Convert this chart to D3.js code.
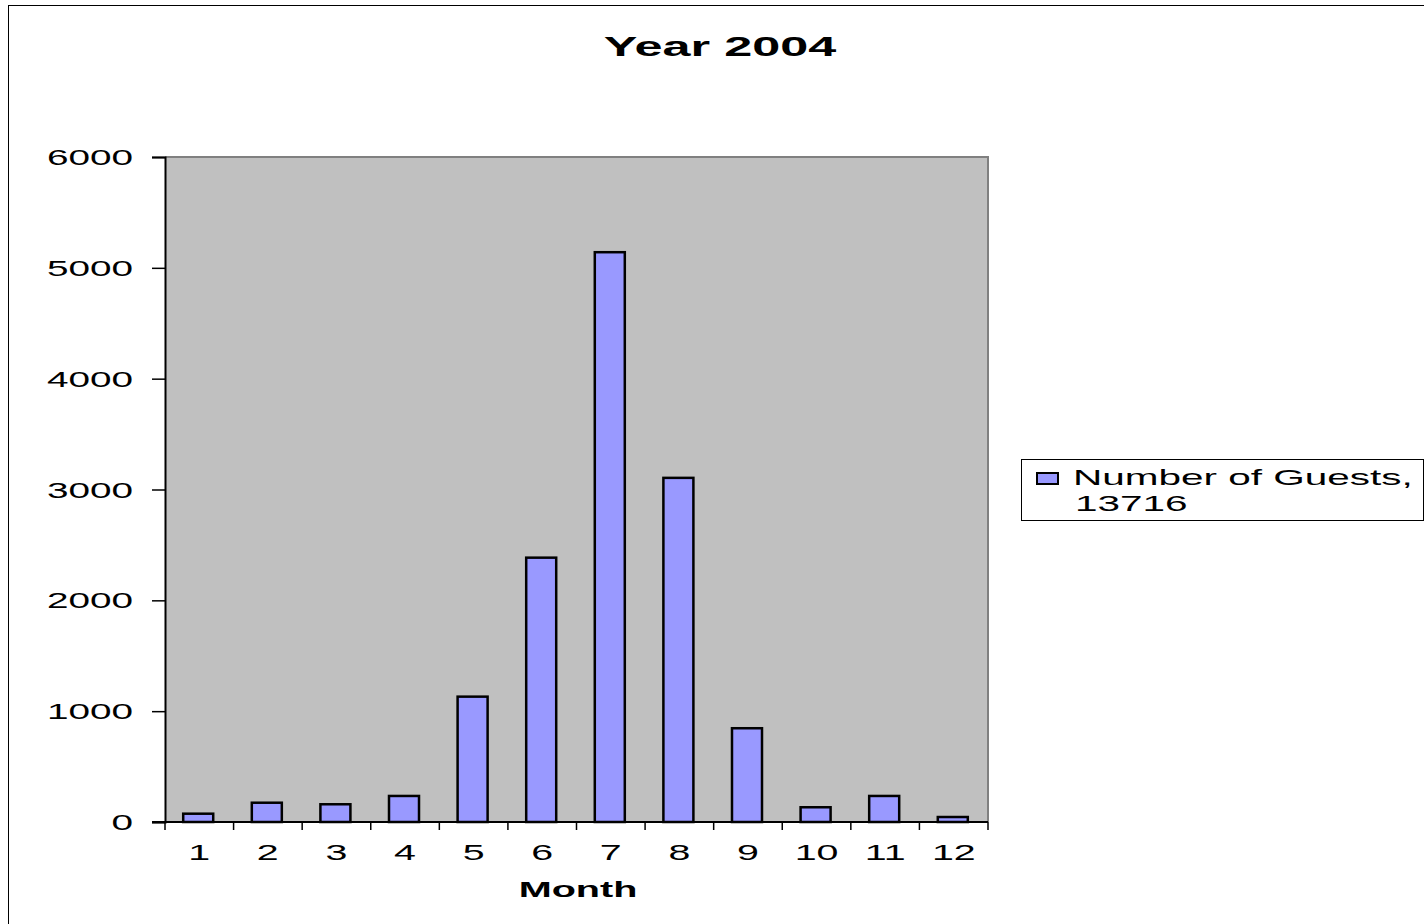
<!DOCTYPE html>
<html><head><meta charset="utf-8">
<script src="https://cdn.jsdelivr.net/npm/d3@7"></script>
<style>body{margin:0;background:#fff}svg{display:block}text{font-family:"Liberation Sans",Arial,sans-serif;fill:#000}</style>
</head><body><svg id="c" width="1424" height="924"></svg>
<script>
const months = ["1","2","3","4","5","6","7","8","9","10","11","12"];
const guests = [75,174,160,235,1131,2385,5141,3105,846,133,235,45];
const yTicks = [0,1000,2000,3000,4000,5000,6000];
const title = "Year 2004";
const xTitle = "Month";
const legendLines = ["Number of Guests,", "13716"];

const svg = d3.select("#c");
function stext(g, x, y, str, size, anchor, weight, sx){
  return g.append("text")
    .attr("transform", `translate(${x},${y}) scale(${sx||1.8},1)`)
    .attr("text-anchor", anchor||"start")
    .attr("font-size", size)
    .attr("font-weight", weight||"normal")
    .text(str);
}

// outer chart border
svg.append("rect").attr("x",8.5).attr("y",5.5).attr("width",1430).attr("height",930)
  .attr("fill","#fff").attr("stroke","#000").attr("stroke-width",1);

const L=165, R=988, T=157, B=822;
const x = d3.scaleBand().domain(months).range([L-1,R-1]).paddingInner(0.5625).paddingOuter(0.28);
const y = d3.scaleLinear().domain([0,6000]).range([B,T]);

// plot area
svg.append("rect").attr("x",L).attr("y",T).attr("width",R-L).attr("height",B-T)
  .attr("fill","#C0C0C0");
svg.append("path").attr("d",`M${L},${T}H${R}V${B}`).attr("fill","none").attr("stroke","#808080").attr("stroke-width",2);

// bars
svg.append("g").selectAll("rect").data(guests).join("rect")
  .attr("x",(d,i)=>x(months[i]))
  .attr("y",d=>y(d))
  .attr("width",x.bandwidth())
  .attr("height",d=>B-y(d))
  .attr("fill","#9999FF").attr("stroke","#000").attr("stroke-width",2.5);

// y axis
const ya = svg.append("g").attr("transform",`translate(${L},0)`)
  .call(d3.axisLeft(y).tickValues(yTicks).tickSize(13).tickPadding(0).tickFormat(d3.format("d")));
ya.select(".domain").attr("stroke","#000").attr("stroke-width",2);
ya.selectAll(".tick line").attr("stroke","#000").attr("stroke-width",1.5);
ya.selectAll(".tick text").remove();
yTicks.forEach(v=>{
  stext(svg, 133, y(v)+8, String(v), 22.5, "end", "normal", 1.72);
});

// x axis
const boundaries = d3.range(months.length+1).map(i=>L+i*(R-L)/months.length);
svg.append("line").attr("x1",L-13).attr("x2",R).attr("y1",B).attr("y2",B).attr("stroke","#000").attr("stroke-width",2);
svg.append("g").selectAll("line").data(boundaries).join("line")
  .attr("x1",d=>d).attr("x2",d=>d).attr("y1",B).attr("y2",B+8)
  .attr("stroke","#000").attr("stroke-width",1.5);
months.forEach(m=>{
  stext(svg, x(m)+x.bandwidth()/2+1, 860, m, 22.5, "middle", "normal", 1.75);
});
stext(svg, 578, 897, xTitle, 22, "middle", "bold");

// title
stext(svg, 720, 56, title, 28, "middle", "bold");

// legend
svg.append("rect").attr("x",1021.5).attr("y",459.5).attr("width",402).attr("height",61)
  .attr("fill","#fff").attr("stroke","#000").attr("stroke-width",1);
svg.append("rect").attr("x",1037).attr("y",473).attr("width",21).attr("height",11)
  .attr("fill","#9999FF").attr("stroke","#000").attr("stroke-width",2);
stext(svg, 1073, 485, legendLines[0], 22.5, "start", "normal", 1.8);
stext(svg, 1075, 511, legendLines[1], 22.5, "start", "normal", 1.8);
</script></body></html>
